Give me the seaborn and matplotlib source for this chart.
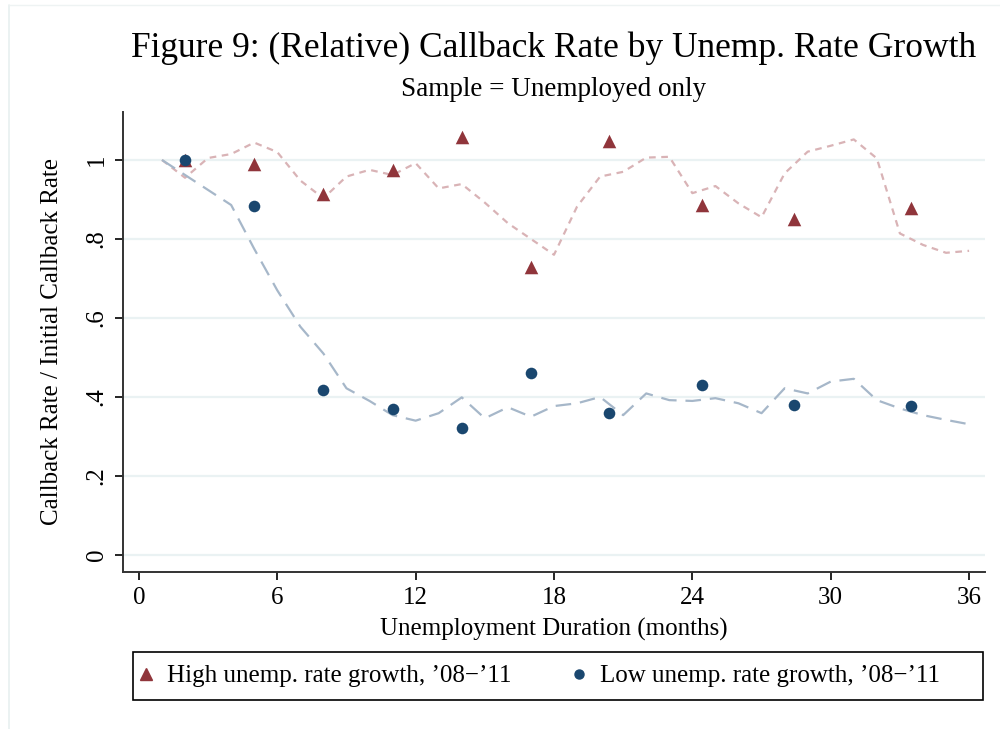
import numpy as np
import pandas as pd
import matplotlib
matplotlib.use("Agg")
import matplotlib.pyplot as plt
from matplotlib.lines import Line2D
from matplotlib.patches import Rectangle
import seaborn as sns

# Monthly smoothed callback series (relative to month 1)
months = list(range(1, 37))
high_line = [1.000, 0.955, 1.005, 1.015, 1.044, 1.020, 0.948, 0.903, 0.958, 0.975,
             0.962, 0.992, 0.928, 0.939, 0.892, 0.840, 0.800, 0.760, 0.882, 0.958,
             0.970, 1.006, 1.008, 0.916, 0.934, 0.890, 0.855, 0.966, 1.021, 1.036,
             1.052, 1.004, 0.814, 0.785, 0.765, 0.770]
low_line = [1.000, 0.962, 0.924, 0.886, 0.775, 0.670, 0.578, 0.510, 0.422, 0.390,
            0.354, 0.340, 0.359, 0.399, 0.346, 0.374, 0.350, 0.377, 0.384, 0.400,
            0.354, 0.409, 0.392, 0.390, 0.397, 0.384, 0.359, 0.422, 0.409, 0.439,
            0.446, 0.392, 0.371, 0.354, 0.342, 0.331]

# Binned averages
bin_x = [2, 5, 8, 11, 14, 17, 20.4, 24.4, 28.4, 33.5]
high_pts = [1.000, 0.990, 0.915, 0.975, 1.058, 0.730, 1.048, 0.887, 0.850, 0.878]
low_pts = [1.000, 0.884, 0.418, 0.370, 0.321, 0.461, 0.359, 0.430, 0.380, 0.376]

x_ticks = [0, 6, 12, 18, 24, 30, 36]
y_ticks = [0, 0.2, 0.4, 0.6, 0.8, 1.0]
y_tick_labels = ["0", ".2", ".4", ".6", ".8", "1"]

high_label = "High unemp. rate growth, \u201908\u2212\u201911"
low_label = "Low unemp. rate growth, \u201908\u2212\u201911"

RED = "#90353b"
NAVY = "#1a476f"
RED_FADED = "#d9b3b6"
NAVY_FADED = "#a6b7c9"
GRID = "#eaf2f3"

sns.set_theme(style="white")
plt.rcParams["font.family"] = ["Liberation Serif", "DejaVu Serif"]
plt.rcParams["text.color"] = "black"
plt.rcParams["xtick.color"] = "black"
plt.rcParams["ytick.color"] = "black"
plt.rcParams["axes.labelcolor"] = "black"

lines_df = pd.DataFrame({"month": months, "high": high_line, "low": low_line})
pts_df = pd.DataFrame({"bin": bin_x, "high": high_pts, "low": low_pts})

fig = plt.figure(figsize=(10, 7.29), dpi=100)

# faint graph-region border
fig.add_artist(Line2D([0.0085, 0.0085], [0.0, 0.993], transform=fig.transFigure,
                      color="#e8f0f0", lw=1.2))
fig.add_artist(Line2D([0.0085, 1.0], [0.993, 0.993], transform=fig.transFigure,
                      color="#eef3f3", lw=1.0))

ax = fig.add_axes([0.123, 0.2154, 0.862, 0.631])

for y in y_ticks:
    ax.axhline(y, color=GRID, lw=1.6, zorder=0)

sns.lineplot(data=lines_df, x="month", y="high", ax=ax, color=RED_FADED,
             lw=1.6, linestyle=(0, (3, 2.5)), zorder=2)
sns.lineplot(data=lines_df, x="month", y="low", ax=ax, color=NAVY_FADED,
             lw=1.6, linestyle=(0, (7, 4)), zorder=2)
sns.scatterplot(data=pts_df, x="bin", y="high", ax=ax, marker="^", s=95,
                color=RED, edgecolor=RED, linewidth=0, zorder=3)
sns.scatterplot(data=pts_df, x="bin", y="low", ax=ax, marker="o", s=70,
                color=NAVY, edgecolor=NAVY, linewidth=0, zorder=3)

ax.set_xlim(-0.69, 36.69)
ax.set_ylim(-0.043, 1.1215)
ax.set_xticks(x_ticks)
ax.set_xticklabels([str(t) for t in x_ticks], fontsize=18)
ax.set_yticks(y_ticks)
ax.set_yticklabels(y_tick_labels, fontsize=18, rotation=90, va="center")
ax.tick_params(axis="both", direction="out", length=6, width=1.2, color="black",
               bottom=True, left=True, pad=5)
ax.grid(False)

for side in ["top", "right"]:
    ax.spines[side].set_visible(False)
for side in ["left", "bottom"]:
    ax.spines[side].set_color("#333333")
    ax.spines[side].set_linewidth(1.4)

ax.set_xlabel("Unemployment Duration (months)", fontsize=18, labelpad=6)
ax.set_ylabel("Callback Rate / Initial Callback Rate", fontsize=18, labelpad=16)

fig.text(0.554, 0.934, "Figure 9: (Relative) Callback Rate by Unemp. Rate Growth",
         ha="center", va="center", fontsize=25.5)
fig.text(0.554, 0.877, "Sample = Unemployed only", ha="center", va="center",
         fontsize=19.5)

# Legend: boxed, single row below the plot
fig.add_artist(Rectangle((0.133, 0.0398), 0.85, 0.0658, transform=fig.transFigure,
                         fill=False, edgecolor="black", linewidth=1.2))
handles = [
    Line2D([], [], marker="^", color=RED, linestyle="none", markersize=8),
    Line2D([], [], marker="o", color=NAVY, linestyle="none", markersize=6.5),
]
fig.legend(handles, [high_label, low_label], ncol=2,
           loc="center left", bbox_to_anchor=(0.136, 0.0727),
           fontsize=18, frameon=False, handlelength=0.8, handletextpad=0.45,
           columnspacing=2.3, borderaxespad=0, borderpad=0)

fig.savefig("out.png", dpi=100)
